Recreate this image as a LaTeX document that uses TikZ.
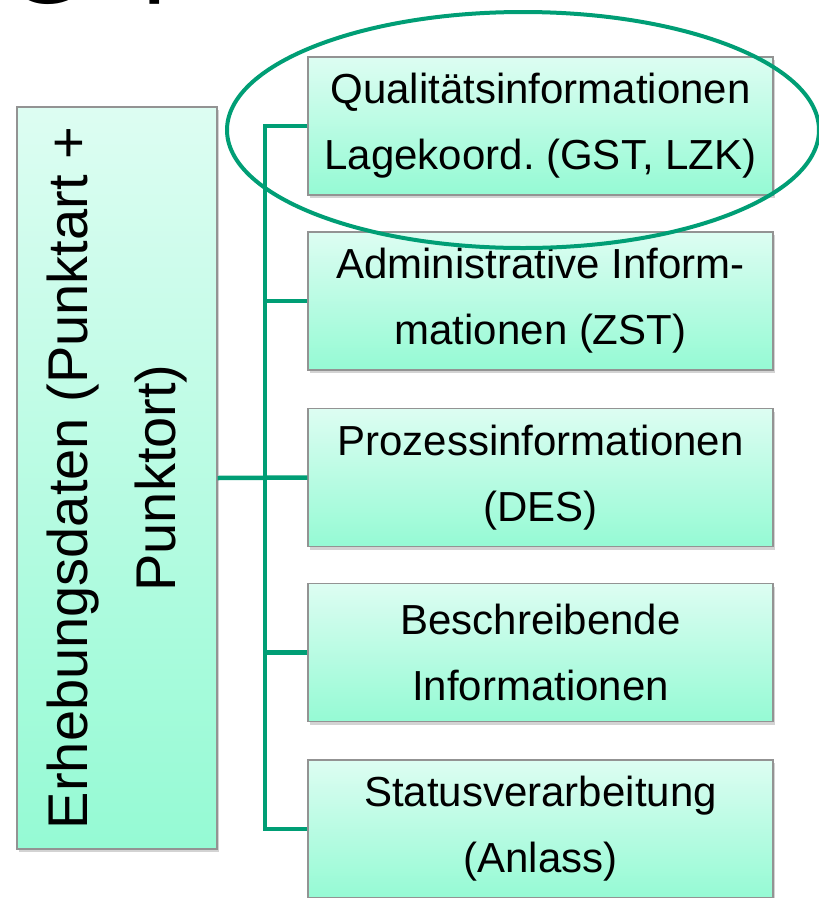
\documentclass[tikz,border=0pt]{standalone}
\usepackage{fontspec}
\setmainfont{Liberation Sans}
\usetikzlibrary{shadows}
\definecolor{linegreen}{HTML}{009E75}
\definecolor{mintlight}{HTML}{DDFDF2}
\definecolor{mintdark}{HTML}{95FAD4}
\begin{document}
\frenchspacing
\begin{tikzpicture}[x=1pt, y=-1pt,
    boxStyle/.style={draw=gray!85, line width=1.3pt, top color=mintlight, bottom color=mintdark,
        minimum width=465pt, minimum height=138pt, inner sep=0pt, align=center,
        font=\fontsize{42}{66}\selectfont,
        drop shadow={shadow xshift=1.5pt, shadow yshift=-3pt, opacity=0.35}},
    sideStyle/.style={draw=gray!85, line width=1.3pt, top color=mintlight, bottom color=mintdark,
        rotate=90, minimum width=742pt, minimum height=200pt, inner sep=0pt, align=center,
        font=\fontsize{56}{88}\selectfont,
        drop shadow={shadow xshift=1.5pt, shadow yshift=-3pt, opacity=0.35}},
    linkStyle/.style={draw=linegreen, line width=4.5pt}]
    \useasboundingbox (0,0) rectangle (819,898);

    % cut-off heading
    \node[anchor=base west, inner sep=0pt, font=\fontsize{110}{110}\selectfont](head1) at (4, 3) {G};
    \node[anchor=base west, inner sep=0pt, font=\fontsize{110}{110}\selectfont](head2) at (142, -19) {p};

    \node[sideStyle](erh) at (117, 478) {Erhebungsdaten (Punktart +\\Punktort)};

    \node[boxStyle](b1) at (540.5, 126) {Qualitätsinformationen\\Lagekoord. (GST, LZK)};
    \node[boxStyle](b2) at (540.5, 301) {Administrative Inform-\\mationen (ZST)};
    \node[boxStyle](b3) at (540.5, 477.5) {Prozessinformationen\\(DES)};
    \node[boxStyle](b4) at (540.5, 652.5) {Beschreibende\\Informationen};
    \node[boxStyle](b5) at (540.5, 829) {Statusverarbeitung\\(Anlass)};

    \coordinate (bus) at (265, 478);

    \draw[linkStyle] (b1.west) -| (bus) |- (b5.west);
    \draw[linkStyle] (erh.south) -- (b3.west);
    \draw[linkStyle] (b2.west) -- (b2.west -| bus);
    \draw[linkStyle] (b4.west) -- (b4.west -| bus);

    \draw[linegreen, line width=4pt] (523, 130) ellipse [x radius=296, y radius=118];
\end{tikzpicture}
\end{document}
